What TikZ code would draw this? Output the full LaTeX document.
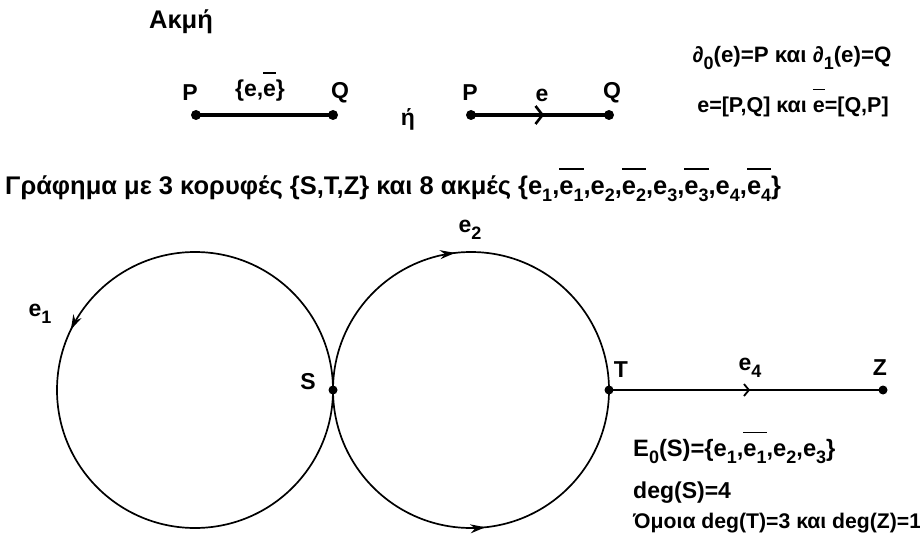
\documentclass[tikz,border=0pt]{standalone}
\usepackage{fontspec}
\setmainfont{Liberation Sans}
\usetikzlibrary{arrows.meta, decorations.markings}

% lowered index and bar over an edge name
\newcommand{\low}[1]{\raisebox{-7pt}{\fontsize{18}{18}\selectfont #1}}
\newcommand{\ovl}[1]{\vbox{\hrule height 1.2pt \vskip 11pt \hbox{#1}}}

\tikzset{
  lbl/.style={font=\fontsize{#1}{#1}\selectfont\bfseries, inner sep=0pt},
  lbl/.default=23,
  arrowat/.style={postaction={decorate}, decoration={markings,
    mark=at position #1 with {\arrow{Stealth[length=15pt, width=9pt]}}}},
  openat/.style={postaction={decorate}, decoration={markings,
    mark=at position #1 with {\arrow{Straight Barb[length=5pt, width=12pt, line width=1.8pt]}}}},
  boldopenat/.style={postaction={decorate}, decoration={markings,
    mark=at position #1 with {\arrow{Straight Barb[length=7pt, width=18pt, line width=2.6pt]}}}},
}

\begin{document}
\begin{tikzpicture}[x=1pt, y=1pt]
    \useasboundingbox (0,0) rectangle (920,542);

    % An edge, drawn two ways
    \node[lbl=25.5] (edgetitle) at (181,520) {Ακμή};

    \coordinate (P1) at (196,427);
    \coordinate (Q1) at (333,427);
    \coordinate (P2) at (471,427);
    \coordinate (Q2) at (609,427);

    \draw[line width=3.2pt] (P1) -- (Q1);
    \draw[line width=3.2pt, boldopenat=0.53] (P2) -- (Q2);
    \foreach \v in {P1, Q1, P2, Q2}
        \fill (\v) circle (5);

    \node[lbl] (p1lbl) at (190,449) {P};
    \node[lbl] (q1lbl) at (340,449) {Q};
    \node[lbl] (pair) at (260,455) {\{e,\ovl{e}\}};
    \node[lbl] (or) at (408,423) {ή};
    \node[lbl] (p2lbl) at (470,449) {P};
    \node[lbl] (elbl) at (542,447) {e};
    \node[lbl] (q2lbl) at (612,449) {Q};

    \node[lbl=22.3] (bounds) at (792,484) {∂\low{0}(e)=P και ∂\low{1}(e)=Q};
    \node[lbl=21.5] (pairs) at (793,439) {e=[P,Q] και \ovl{e}=[Q,P]};

    % The graph
    \node[lbl=25.5, anchor=west] (graphtitle) at (5,357)
        {Γράφημα με 3 κορυφές \{S,T,Z\} και 8 ακμές \{e\low{1},\ovl{e\low{1}},e\low{2},\ovl{e\low{2}},e\low{3},\ovl{e\low{3}},e\low{4},\ovl{e\low{4}}\}};

    \coordinate (S) at (333,152);
    \coordinate (T) at (609,152);
    \coordinate (Z) at (883,152);

    % loop e1 at S, edges e2 and e3 from S to T, e4 from T to Z
    \draw[line width=1.7pt, arrowat=0.428] (S) arc[start angle=0, end angle=360, radius=138];
    \draw[line width=1.7pt, arrowat=0.463] (S) arc[start angle=180, end angle=0, radius=138];
    \draw[line width=1.7pt, arrowat=0.533] (S) arc[start angle=180, end angle=360, radius=138];
    \draw[line width=1.6pt, openat=0.515] (T) -- (Z);
    \foreach \v in {S, T, Z}
        \fill (\v) circle (4.5);

    \node[lbl] (slbl) at (308,160) {S};
    \node[lbl] (tlbl) at (621,172) {T};
    \node[lbl] (zlbl) at (880,174) {Z};
    \node[lbl] (e1lbl) at (40,228) {e\low{1}};
    \node[lbl] (e2lbl) at (470,312) {e\low{2}};
    \node[lbl] (e4lbl) at (750,174) {e\low{4}};

    % Degrees
    \node[lbl=23.7, anchor=west] (star) at (633,94) {E\low{0}(S)=\{e\low{1},\ovl{e\low{1}},e\low{2},e\low{3}\}};
    \node[lbl, anchor=west] (degs) at (633,49) {deg(S)=4};
    \node[lbl=21.2, anchor=west] (degtz) at (633,19) {Όμοια deg(T)=3 και deg(Z)=1};
\end{tikzpicture}
\end{document}
